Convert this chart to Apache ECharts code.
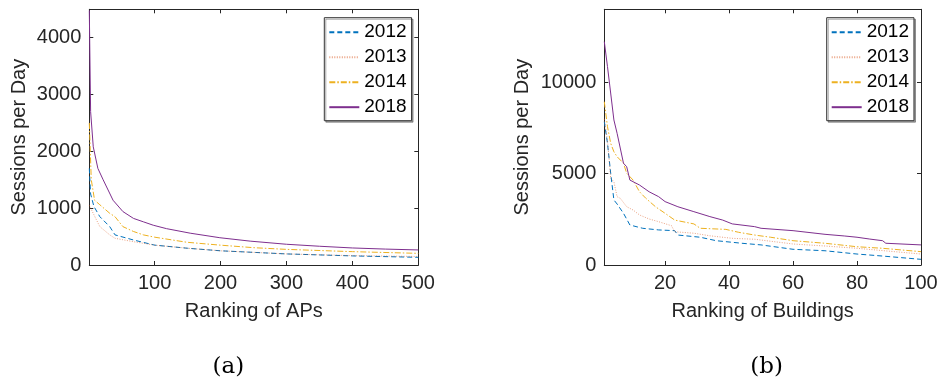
<!DOCTYPE html>
<html><head><meta charset="utf-8">
<script src="https://cdn.jsdelivr.net/npm/echarts@6/dist/echarts.min.js"></script>
<style>html,body{margin:0;padding:0;background:#fff}#c{width:941px;height:380px}</style>
</head><body><div id="c"></div>
<script>
// ---- data ----
const years = ['2012', '2013', '2014', '2018'];
const colors = ['#0072BD', '#D95319', '#EDB120', '#7E2F8E'];

// (a) Ranking of APs
const apRank2012 = [1, 3, 8, 17, 32, 40, 68, 100, 150, 200, 300, 400, 500];
const ap2012     = [1700, 1250, 1030, 850, 675, 530, 440, 350, 295, 250, 195, 160, 135];
const apRank2013 = [1, 12, 17, 32, 40, 68, 100, 150, 200, 300, 400, 500];
const ap2013     = [1050, 790, 675, 530, 470, 410, 350, 295, 250, 195, 165, 150];
const apRank2014 = [1, 4, 9, 17, 32, 40, 52, 68, 83, 100, 149, 199, 250, 300, 400, 500];
const ap2014     = [2500, 1500, 1140, 1060, 910, 850, 675, 590, 530, 490, 400, 350, 305, 275, 235, 205];
const apRank2018 = [1, 3, 7, 14, 22, 37, 52, 68, 83, 98, 118, 154, 199, 245, 300, 350, 400, 450, 500];
const ap2018     = [4480, 2700, 2080, 1700, 1500, 1140, 940, 820, 760, 700, 640, 560, 480, 420, 365, 330, 300, 280, 265];

// (b) Ranking of Buildings
const bRank2012 = [1, 2, 3, 4, 5, 7, 9, 13, 18, 23, 24, 31, 36, 44, 50, 60, 70, 80, 88, 100];
const b2012     = [7850, 6660, 5020, 3560, 3340, 2830, 2190, 2010, 1920, 1880, 1640, 1520, 1330, 1190, 1100, 860, 780, 600, 490, 310];
const bRank2013 = [1, 2, 3, 4, 5, 6, 8, 10, 12, 15, 18, 22, 23, 29, 34, 41, 48, 60, 70, 80, 100];
const b2013     = [8000, 6800, 4750, 4560, 3740, 3650, 3190, 3010, 2740, 2520, 2370, 2150, 1820, 1740, 1600, 1460, 1410, 1150, 1040, 915, 600];
const bRank2014 = [1, 2, 3, 4, 5, 7, 8, 10, 12, 14, 17, 20, 23, 29, 31, 39, 43, 48, 53, 60, 70, 80, 88, 100];
const b2014     = [8940, 7570, 6660, 6200, 5930, 5570, 5020, 4650, 4010, 3650, 3190, 2830, 2460, 2250, 2010, 1950, 1790, 1640, 1520, 1330, 1190, 1000, 915, 730];
const bRank2018 = [1, 2, 4, 5, 7, 8, 9, 12, 15, 18, 20, 24, 29, 34, 38, 41, 48, 50, 60, 70, 76, 80, 84, 88, 89, 100];
const b2018     = [12230, 10860, 7940, 7210, 5570, 5380, 4650, 4380, 4010, 3740, 3470, 3190, 2920, 2650, 2460, 2250, 2100, 2010, 1880, 1680, 1590, 1520, 1420, 1330, 1190, 1100];

// ---- chart ----
const FONT = 'Liberation Sans';
const TXT = '#262626';
const lineTypes = [[5, 3], [1, 1.5], [6, 2, 1.5, 2], 'solid'];
const lineOpacity = [1, 0.55, 1, 1];

function pairs(xs, ys) { return xs.map((x, i) => [x, ys[i]]); }

const apSets = [[apRank2012, ap2012], [apRank2013, ap2013], [apRank2014, ap2014], [apRank2018, ap2018]];
const bSets = [[bRank2012, b2012], [bRank2013, b2013], [bRank2014, b2014], [bRank2018, b2018]];

function mkX(grid, min, max, name, top) {
  return {
    type: 'value', gridIndex: grid, min: min, max: max, splitNumber: 5,
    position: top ? 'top' : 'bottom',
    name: top ? '' : name, nameLocation: 'middle', nameGap: 36,
    nameTextStyle: { fontFamily: FONT, fontSize: 20, color: TXT },
    axisLine: { show: true, onZero: false, lineStyle: { color: TXT, width: 1 } },
    axisTick: { show: true, inside: true, length: 4, lineStyle: { color: TXT } },
    axisLabel: { show: !top, showMinLabel: false, margin: 8, fontFamily: FONT, fontSize: 20, color: TXT,
                 formatter: v => String(v) },
    splitLine: { show: false }
  };
}
function mkY(grid, max, interval, name, right, gap) {
  return {
    type: 'value', gridIndex: grid, min: 0, max: max, interval: interval,
    position: right ? 'right' : 'left',
    name: right ? '' : name, nameLocation: 'middle', nameGap: gap,
    nameTextStyle: { fontFamily: FONT, fontSize: 20, color: TXT },
    axisLine: { show: true, onZero: false, lineStyle: { color: TXT, width: 1 } },
    axisTick: { show: true, inside: true, length: 4, lineStyle: { color: TXT } },
    axisLabel: { show: !right, showMaxLabel: false, margin: 8, fontFamily: FONT, fontSize: 20, color: TXT,
                 formatter: v => String(v) },
    splitLine: { show: false }
  };
}

const series = [];
years.forEach((y, i) => {
  const ls = { width: 1, type: lineTypes[i], color: colors[i], opacity: lineOpacity[i] };
  series.push({
    name: y, type: 'line', xAxisIndex: 0, yAxisIndex: 0, data: pairs(apSets[i][0], apSets[i][1]),
    symbol: 'none', color: colors[i], lineStyle: ls, z: 2 + i
  });
  series.push({
    name: y, type: 'line', xAxisIndex: 2, yAxisIndex: 2, data: pairs(bSets[i][0], bSets[i][1]),
    symbol: 'none', color: colors[i], lineStyle: ls, z: 2 + i
  });
});

function mkLegend(left) {
  return {
    left: left, top: 17.7, orient: 'vertical', data: years, selectedMode: false,
    itemWidth: 30, itemHeight: 10, itemGap: 6, padding: [5, 5, 4, 4],
    itemStyle: { opacity: 0 },
    backgroundColor: '#fff', borderColor: '#333', borderWidth: 1, borderRadius: 0,
    shadowColor: 'rgba(0,0,0,0.35)', shadowOffsetX: 1.5, shadowOffsetY: 1.5, shadowBlur: 0,
    textStyle: { fontFamily: FONT, fontSize: 19, color: '#000', lineHeight: 19 }
  };
}

const chart = echarts.init(document.getElementById('c'), null, { renderer: 'canvas' });
chart.setOption({
  animation: false,
  backgroundColor: '#fff',
  grid: [
    { left: 89.3, top: 9.3, width: 329, height: 255.7 },
    { left: 604.3, top: 9.3, width: 316.7, height: 255.7 }
  ],
  xAxis: [
    mkX(0, 1, 500, 'Ranking of APs', false),
    mkX(0, 1, 500, '', true),
    mkX(1, 1, 100, 'Ranking of Buildings', false),
    mkX(1, 1, 100, '', true)
  ],
  yAxis: [
    mkY(0, 4500, 1000, 'Sessions per Day', false, 60),
    mkY(0, 4500, 1000, '', true, 0),
    mkY(1, 14000, 5000, 'Sessions per Day', false, 72),
    mkY(1, 14000, 5000, '', true, 0)
  ],
  legend: [mkLegend(324.3), mkLegend(826.7)],
  series: series,
  graphic: [
    { type: 'text', x: 228.3, y: 366.7, style: { text: '(a)', fontFamily: 'DejaVu Serif', fontSize: 23, fill: '#000', textAlign: 'center', textVerticalAlign: 'middle' } },
    { type: 'text', x: 766.7, y: 366.7, style: { text: '(b)', fontFamily: 'DejaVu Serif', fontSize: 23, fill: '#000', textAlign: 'center', textVerticalAlign: 'middle' } }
  ]
});
</script>
</body></html>
